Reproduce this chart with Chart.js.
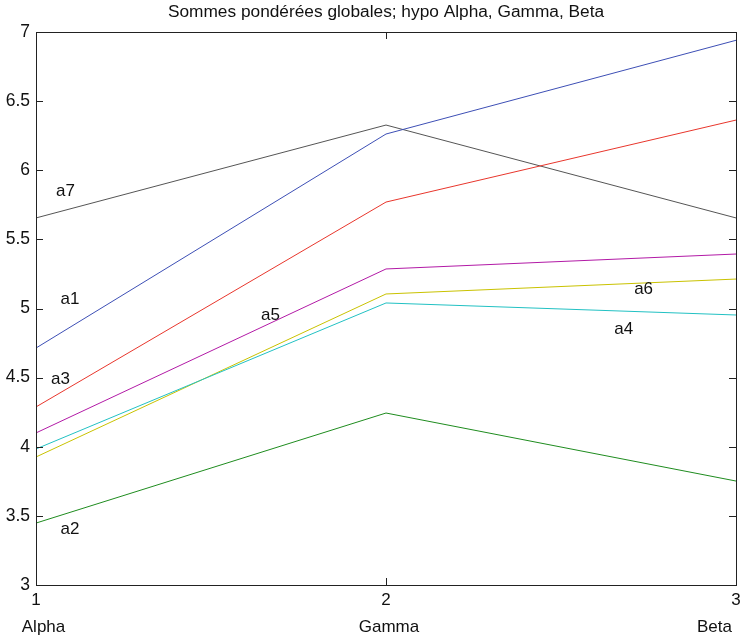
<!DOCTYPE html>
<html>
<head>
<meta charset="utf-8">
<script src="https://cdn.jsdelivr.net/npm/chart.js@4.4.0/dist/chart.umd.min.js"></script>
<style>
  html, body { margin: 0; padding: 0; background: #fff; }
  #wrap { width: 740px; height: 640px; }
</style>
</head>
<body>
<div id="wrap"><canvas id="sommesChart"></canvas></div>
<script>
// valeurs
var positions = [1, 2, 3];
var hypotheses = ['Alpha', 'Gamma', 'Beta'];
var yTicks = [3, 3.5, 4, 4.5, 5, 5.5, 6, 6.5, 7];

var a1 = [4.714, 6.262, 6.94];
var a2 = [3.448, 4.244, 3.752];
var a3 = [4.288, 5.77, 6.363];
var a4 = [3.984, 5.04, 4.953];
var a5 = [4.10, 5.286, 5.394];
var a6 = [3.926, 5.105, 5.213];
var a7 = [5.655, 6.327, 5.655];

// etiquettes posees dans le graphe (centre du texte)
var labelNames = ['a1', 'a2', 'a3', 'a4', 'a5', 'a6', 'a7'];
var labelX = [1.097, 1.097, 1.070, 2.679, 1.670, 2.736, 1.084];
var labelY = [5.07, 3.40, 4.49, 4.85, 4.95, 5.14, 5.85];

var couleurs = ['#3d4fb5', '#1f8c1f', '#e8362c', '#22c1c3', '#b21aa6', '#c9c200', '#555555'];
var series = [a1, a2, a3, a4, a5, a6, a7];

function pts(vals) {
    return vals.map(function(v, i) { return { x: positions[i], y: v }; });
}

var police = 'Liberation Sans, Arial, Helvetica, sans-serif';
var titre = 'Sommes pondérées globales; hypo Alpha, Gamma, Beta';

var cadrePlugin = {
    id: 'cadre',
    afterDraw: function(chart) {
        var ctx = chart.ctx;
        var a = chart.chartArea;
        var xs = chart.scales.x, ys = chart.scales.y;
        ctx.save();
        ctx.strokeStyle = '#222';
        ctx.lineWidth = 1;
        ctx.strokeRect(Math.round(a.left) + 0.5, Math.round(a.top) + 0.5,
            Math.round(a.right - a.left), Math.round(a.bottom - a.top));
        yTicks.forEach(function(t) {
            var y = Math.round(ys.getPixelForValue(t)) + 0.5;
            ctx.beginPath();
            ctx.moveTo(a.left, y); ctx.lineTo(a.left + 7, y);
            ctx.moveTo(a.right, y); ctx.lineTo(a.right - 7, y);
            ctx.stroke();
        });
        positions.forEach(function(p) {
            var x = Math.round(xs.getPixelForValue(p)) + 0.5;
            ctx.beginPath();
            ctx.moveTo(x, a.bottom); ctx.lineTo(x, a.bottom - 7);
            ctx.moveTo(x, a.top); ctx.lineTo(x, a.top + 7);
            ctx.stroke();
        });
        ctx.fillStyle = '#111';
        ctx.font = '17px ' + police;
        ctx.textBaseline = 'middle';
        ctx.textAlign = 'center';
        labelNames.forEach(function(n, i) {
            ctx.fillText(n, xs.getPixelForValue(labelX[i]), ys.getPixelForValue(labelY[i]));
        });
        // noms des hypotheses sous l'axe
        var decal = [7.5, 3, -21.5];
        hypotheses.forEach(function(h, i) {
            ctx.fillText(h, xs.getPixelForValue(positions[i]) + decal[i], a.bottom + 42);
        });
        // titre centre sur la zone du graphe
        ctx.font = '17.3px ' + police;
        ctx.fillText(titre, (a.left + a.right) / 2, 12);
        ctx.restore();
    }
};

var ctx = document.getElementById('sommesChart').getContext('2d');
var sommesChart = new Chart(ctx, {
    type: 'line',
    data: {
        datasets: series.map(function(s, i) {
            return {
                label: labelNames[i],
                data: pts(s),
                borderColor: couleurs[i],
                borderWidth: 1,
                pointRadius: 0,
                fill: false,
                tension: 0
            };
        })
    },
    options: {
        responsive: true,
        maintainAspectRatio: false,
        animation: false,
        layout: { padding: { left: 0, right: 4, top: 32, bottom: 0 } },
        plugins: {
            legend: { display: false },
            tooltip: { enabled: false },
            title: { display: false }
        },
        scales: {
            x: {
                type: 'linear',
                min: 1,
                max: 3,
                grid: { display: false, drawTicks: false },
                border: { display: false },
                afterBuildTicks: function(scale) {
                    scale.ticks = positions.map(function(v) { return { value: v }; });
                },
                afterFit: function(scale) {
                    scale.height = 55;
                    scale.paddingLeft = 0;
                    scale.paddingRight = 0;
                },
                ticks: {
                    color: '#111',
                    padding: 5,
                    maxRotation: 0,
                    font: { family: police, size: 17 },
                    callback: function(v) { return String(v); }
                }
            },
            y: {
                min: 3,
                max: 7,
                grid: { display: false, drawTicks: false },
                border: { display: false },
                afterBuildTicks: function(scale) {
                    scale.ticks = yTicks.map(function(v) { return { value: v }; });
                },
                afterFit: function(scale) {
                    scale.width = 36;
                    scale.paddingTop = 0;
                    scale.paddingBottom = 0;
                },
                ticks: {
                    color: '#111',
                    padding: 6,
                    font: { family: police, size: 17.5 },
                    callback: function(v) { return String(v); }
                }
            }
        }
    },
    plugins: [cadrePlugin]
});
</script>
</body>
</html>
